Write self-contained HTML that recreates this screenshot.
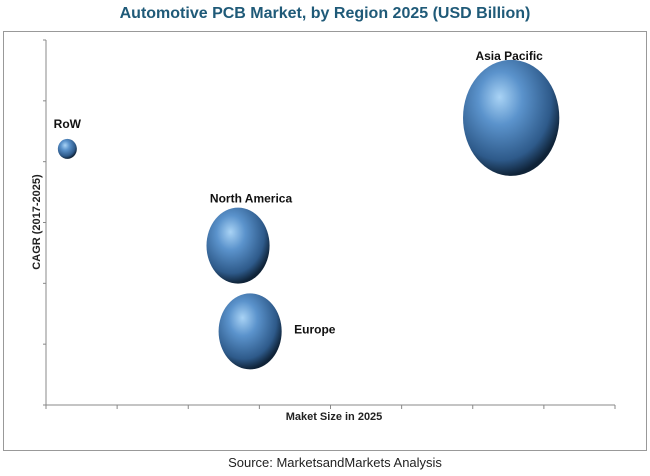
<!DOCTYPE html>
<html><head><meta charset="utf-8"><style>
body{margin:0;background:#fff;width:650px;height:471px;overflow:hidden;font-family:"Liberation Sans",sans-serif}
</style></head><body>
<svg width="650" height="471">
<defs>
<radialGradient id="g" cx="0.4" cy="0.35" r="0.65" fx="0.38" fy="0.32">
<stop offset="0" stop-color="#a9d3f5"/><stop offset="0.35" stop-color="#5b93cc"/><stop offset="0.8" stop-color="#2e5a8a"/><stop offset="1" stop-color="#0f2338"/>
</radialGradient>
</defs>
<text x="325" y="18" text-anchor="middle" font-size="16" font-weight="bold" fill="#1f5a78" font-family="Liberation Sans Narrow,Liberation Sans,sans-serif">Automotive PCB Market, by Region 2025 (USD Billion)</text>
<rect x="3.5" y="31.5" width="643" height="419" fill="none" stroke="#999"/>
<g id="axes"></g>
<g id="bubbles"></g>
<text x="334" y="420" text-anchor="middle" font-size="11" font-weight="bold" fill="#222">Maket Size in 2025</text>
<text transform="translate(40,222) rotate(-90)" text-anchor="middle" font-size="11" font-weight="bold" fill="#222">CAGR (2017-2025)</text>
<text x="335" y="467" text-anchor="middle" font-size="13" fill="#222">Source: MarketsandMarkets Analysis</text>
</svg>
<script>
const regions=["RoW","North America","Europe","Asia Pacific"];
const marketSize=[0.3,2.7,2.87,6.54];
const cagr=[4.21,2.62,1.21,4.72];
const bubbleSize=[10,38,38,58];
const xTicks=[0,1,2,3,4,5,6,7,8];
const yTicks=[0,1,2,3,4,5,6];
const X0=46,X1=615,Y0=405,Y1=40;
const sx=v=>X0+(X1-X0)*v/8, sy=v=>Y0-(Y0-Y1)*v/6;
const ns="http://www.w3.org/2000/svg";
const ax=document.getElementById('axes'),bb=document.getElementById('bubbles');
function mk(t,a,p){const e=document.createElementNS(ns,t);for(const k in a)e.setAttribute(k,a[k]);p.appendChild(e);return e;}
let l=mk('line',{x1:X0,y1:Y0,x2:X1,y2:Y0,stroke:'#888'},ax);


l=mk('line',{x1:X0,y1:Y0,x2:X0,y2:Y1,stroke:'#888'},ax);


xTicks.forEach(t=>{const e=mk('line',{x1:sx(t),y1:Y0,x2:sx(t),y2:Y0+4,stroke:'#888'},ax);

});
yTicks.forEach(t=>{const e=mk('line',{x1:X0-3,y1:sy(t),x2:X0,y2:sy(t),stroke:'#888'},ax);

});
const lab=[[0,-25,'middle'],[13,-47,'middle'],[44,-2,'start'],[-2,-62,'middle']];
regions.forEach((r,i)=>{const cx=sx(marketSize[i]),cy=sy(cagr[i]),ry=bubbleSize[i],rx=ry*(i==0?0.95:0.83);
const e=mk('ellipse',{cx,cy,rx,ry,fill:'url(#g)'},bb);


const t=mk('text',{x:cx+lab[i][0],y:cy+lab[i][1]+4,'text-anchor':lab[i][2],'font-size':12,'font-weight':'bold',fill:'#111'},bb);
t.textContent=r;

});
</script>
</body></html>
